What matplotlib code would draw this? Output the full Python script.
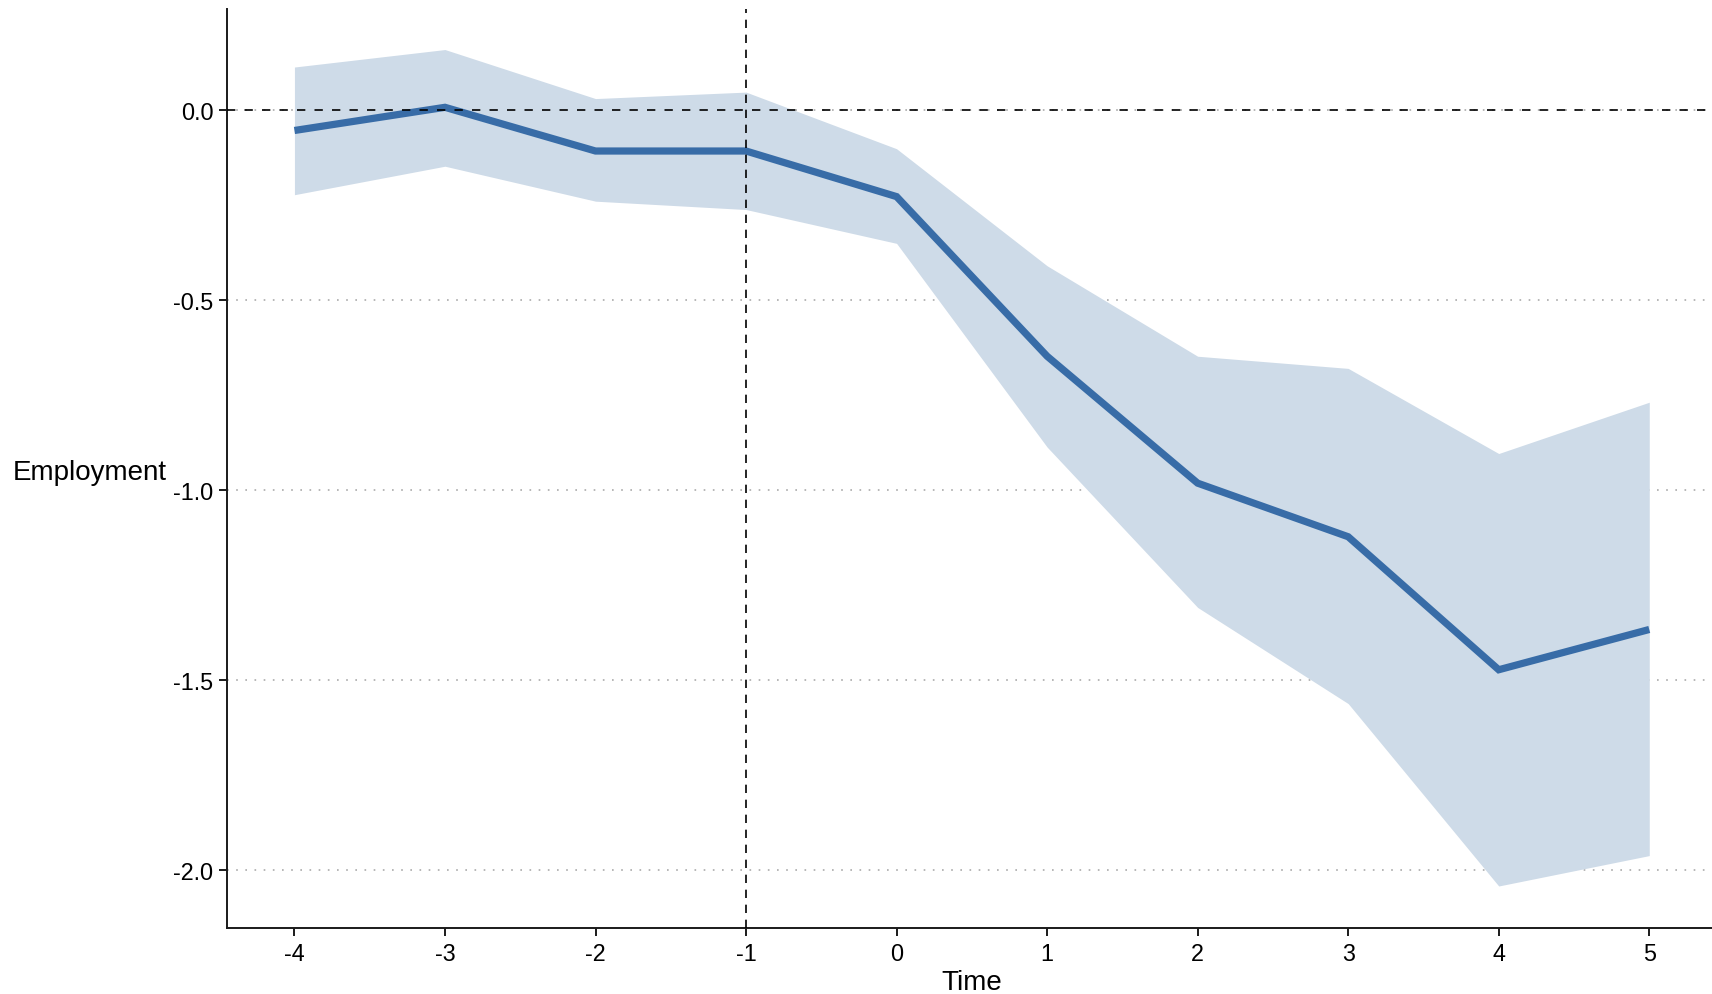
import matplotlib
matplotlib.use("Agg")
import matplotlib.pyplot as plt

plt.rcParams['font.family'] = ['Liberation Sans', 'DejaVu Sans']
plt.rcParams['axes.unicode_minus'] = False

# event-study estimates with confidence band
time = [-4, -3, -2, -1, 0, 1, 2, 3, 4, 5]
estimate = [-0.055, 0.006, -0.109, -0.109, -0.229, -0.649, -0.983, -1.124, -1.474, -1.368]
upper = [0.112, 0.158, 0.029, 0.046, -0.103, -0.411, -0.649, -0.681, -0.905, -0.770]
lower = [-0.224, -0.149, -0.241, -0.263, -0.352, -0.888, -1.310, -1.563, -2.043, -1.963]
yticks = [0.0, -0.5, -1.0, -1.5, -2.0]
ytick_labels = ['0.0', '-0.5', '-1.0', '-1.5', '-2.0']

fig = plt.figure(figsize=(17.12, 9.95), dpi=100)
ax = fig.add_axes([226.7 / 1712, (995 - 928.8) / 995, (1717 - 226.7) / 1712, (928.8 - 9.5) / 995])

# dotted horizontal grid
for y in yticks:
    ax.axhline(y, color='#aaaaaa', lw=1.2, ls=(0, (1, 4.5)), zorder=0)

ax.fill_between(time, lower, upper, color='#cedbe8', lw=0, zorder=1)
ax.plot(time, estimate, color='#386ca7', lw=5.2, solid_joinstyle='miter',
        solid_capstyle='butt', zorder=2)

ax.axhline(0, color='black', lw=1.2, ls=(0, (5, 5.5)), zorder=3)
ax.axvline(-1, color='black', lw=1.2, ls=(0, (5, 4)), zorder=3)

ax.set_xlim(-4.45, 5.45)
ax.set_ylim(-2.153, 0.266)
ax.set_xticks(time)
ax.set_xticklabels([str(t) for t in time])
ax.set_yticks(yticks)
ax.set_yticklabels(ytick_labels)

for side in ['top', 'right']:
    ax.spines[side].set_visible(False)
for side in ['left', 'bottom']:
    ax.spines[side].set_linewidth(1.4)
    ax.spines[side].set_color('#1a1a1a')

ax.tick_params(axis='both', direction='out', length=5.5, width=1.4, color='#1a1a1a',
               labelsize=16.8, labelcolor='black')
ax.tick_params(axis='x', pad=5)
ax.tick_params(axis='y', pad=4)

ax.set_xlabel('Time', fontsize=20)
ax.xaxis.set_label_coords(0.5, -0.0585)
ax.xaxis.label.set_va('center')
ax.set_ylabel('Employment', fontsize=20, rotation=0, ha='left', va='center')
ax.yaxis.set_label_coords((12.7 - 226.7) / (1717 - 226.7), 0.496)

fig.savefig('out.png', dpi=100)
